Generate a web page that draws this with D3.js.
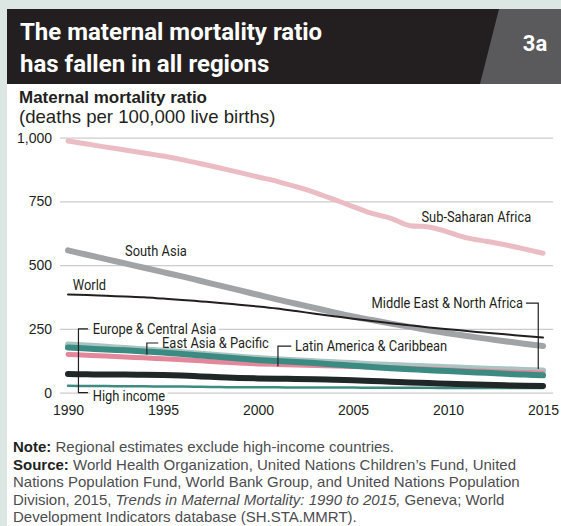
<!DOCTYPE html>
<html lang="en">
<head>
<meta charset="UTF-8">
<title>Maternal mortality ratio</title>
<script src="https://d3js.org/d3.v7.min.js"></script>
<style>
  body { margin: 0; background: #dce6e3; }
  svg { display: block; }
  .axis text { font-family: "Liberation Sans", Arial, sans-serif; font-size: 14px; fill: #231f20; }
  .series-label { font-family: Roboto, "Liberation Sans", sans-serif; font-size: 15px; fill: #231f20; }
  .note { font-family: "Liberation Sans", Arial, sans-serif; font-size: 15px; fill: #4d4d4f; }
</style>
</head>
<body>
<svg id="chart" width="561" height="526"></svg>
<script>
// years and series values (maternal deaths per 100,000 live births)
const years = [1990, 1991, 1992, 1993, 1994, 1995, 1996, 1997, 1998, 1999, 2000, 2001, 2002,
               2003, 2004, 2005, 2006, 2007, 2008, 2009, 2010, 2011, 2012, 2013, 2014, 2015];
const subSaharanAfrica = [987, 975, 963, 952, 940, 928, 914, 898, 881, 864, 846, 829, 808, 785, 758,
                          730, 703, 684, 655, 650, 630, 607, 594, 580, 564, 547];
const southAsia = [558, 541, 524, 507, 490, 473, 456, 438, 420, 402, 384, 366, 349, 332, 315,
                   299, 285, 271, 258, 245, 233, 222, 212, 202, 192, 183];
const world = [385, 383, 380, 377, 374, 369, 364, 358, 352, 345, 338, 330, 320, 310, 300,
               290, 281, 272, 264, 256, 249, 242, 235, 229, 222, 216];
const highIncome = [27, 26, 26, 25, 25, 24, 24, 23, 22, 21, 21, 21, 20, 20, 20,
                    20, 19, 19, 19, 19, 18, 18, 18, 18, 18, 18];
const middleEastNorthAfrica = [189, 185, 180, 175, 170, 165, 159, 153, 147, 141, 136, 131, 127, 123, 119,
                               116, 112, 109, 106, 103, 100, 97, 94, 92, 89, 87];
const latinAmerica = [150, 147, 144, 140, 137, 133, 129, 125, 120, 116, 113, 111, 109, 107, 105,
                      103, 100, 98, 95, 92, 89, 86, 84, 81, 79, 77];
const eastAsiaPacific = [177, 173, 169, 166, 162, 158, 152, 146, 140, 134, 128, 124, 120, 116, 111,
                         106, 101, 96, 92, 88, 85, 81, 78, 74, 71, 68];
const europeCentralAsia = [73, 72, 71, 71, 70, 69, 67, 64, 61, 58, 56, 55, 54, 53, 51,
                           49, 46, 43, 40, 38, 35, 33, 31, 29, 27, 26];

const yTicks = [0, 250, 500, 750, 1000];
const xTicks = [1990, 1995, 2000, 2005, 2010, 2015];

// drawing order matters: later series sit on top
const series = [
  { name: "Sub-Saharan Africa", values: subSaharanAfrica, color: "#ecbcc4", width: 5 },
  { name: "South Asia", values: southAsia, color: "#a1a4a6", width: 6 },
  { name: "World", values: world, color: "#231f20", width: 2 },
  { name: "High income", values: highIncome, color: "#3d8b82", width: 2.5 },
  { name: "Middle East & North Africa", values: middleEastNorthAfrica, color: "#a9c4c1", width: 6 },
  { name: "Latin America & Caribbean", values: latinAmerica, color: "#e5879a", width: 5 },
  { name: "East Asia & Pacific", values: eastAsiaPacific, color: "#3c8b82", width: 6 },
  { name: "Europe & Central Asia", values: europeCentralAsia, color: "#1f2826", width: 6 }
];

const svg = d3.select("#chart");

// background frame
svg.append("rect").attr("x", 7).attr("y", 9).attr("width", 554).attr("height", 517).attr("fill", "#fff");
svg.append("rect").attr("x", 7).attr("y", 9).attr("width", 554).attr("height", 75).attr("fill", "#231f20");
svg.append("path").attr("d", "M499,9 L561,9 L561,84 L480,84 Z").attr("fill", "#5a5a5c");

const titleFont = 'Roboto, "Liberation Sans", sans-serif';
svg.append("text").attr("x", 20).attr("y", 40).attr("fill", "#fff")
  .style("font-family", titleFont).style("font-size", "24px").style("font-weight", "bold")
  .text("The maternal mortality ratio");
svg.append("text").attr("x", 20).attr("y", 72).attr("fill", "#fff")
  .style("font-family", titleFont).style("font-size", "24px").style("font-weight", "bold")
  .text("has fallen in all regions");
svg.append("text").attr("x", 535).attr("y", 51).attr("fill", "#fff").attr("text-anchor", "middle")
  .style("font-family", titleFont).style("font-size", "22px").style("font-weight", "bold")
  .text("3a");

svg.append("text").attr("x", 19).attr("y", 102.5).attr("fill", "#231f20")
  .style("font-family", '"Liberation Sans", Arial, sans-serif').style("font-size", "17px").style("font-weight", "bold")
  .text("Maternal mortality ratio");
svg.append("text").attr("x", 19).attr("y", 123).attr("fill", "#231f20")
  .style("font-family", '"Liberation Sans", Arial, sans-serif').style("font-size", "18.6px")
  .text("(deaths per 100,000 live births)");

// scales
const x = d3.scaleLinear().domain([1990, 2015]).range([68, 543]);
const y = d3.scaleLinear().domain([0, 1000]).range([392.7, 137.7]);
const gridLeft = 60, gridRight = 553;

// y axis with gridlines
const yAxis = svg.append("g").attr("class", "axis").attr("transform", `translate(${gridLeft},0)`)
  .call(d3.axisLeft(y).tickValues(yTicks).tickFormat(d3.format(","))
    .tickSize(-(gridRight - gridLeft)).tickPadding(8));
yAxis.select(".domain").remove();
yAxis.selectAll(".tick line").attr("stroke", "#cccccc").attr("stroke-width", 1.2);

// x axis labels
const xAxis = svg.append("g").attr("class", "axis").attr("transform", `translate(0,${y(0)})`)
  .call(d3.axisBottom(x).tickValues(xTicks).tickFormat(d3.format("d")).tickSize(0).tickPadding(12));
xAxis.select(".domain").remove();

const labelLayer = svg.append("g");

// lines
const line = d3.line()
  .x((d, i) => x(years[i]))
  .y(d => y(d))
  .curve(d3.curveMonotoneX);

svg.append("g").selectAll("path")
  .data(series)
  .join("path")
  .attr("d", d => line(d.values))
  .attr("fill", "none")
  .attr("stroke", d => d.color)
  .attr("stroke-width", d => d.width)
  .attr("stroke-linecap", "round")
  .attr("stroke-linejoin", "round");

// labels (anchored in data units)
const labels = [
  { text: "Sub-Saharan Africa", year: 2008.6, value: 668, anchor: "start" },
  { text: "South Asia", year: 1993, value: 535, anchor: "start" },
  { text: "World", year: 1990.25, value: 403, anchor: "start" },
  { text: "Middle East & North Africa", year: 2013.95, value: 332, anchor: "end" },
  { text: "Europe & Central Asia", year: 1991.3, value: 232, anchor: "start", knockout: true },
  { text: "East Asia & Pacific", year: 1994.95, value: 177, anchor: "start" },
  { text: "Latin America & Caribbean", year: 2001.95, value: 164, anchor: "start" },
  { text: "High income", year: 1991.3, value: -31, anchor: "start", knockout: true }
];

// leader lines: [year1, value1, year2, value2, ...] polyline points
const leaders = [
  [2014.1, 351, 2014.75, 351, 2014.75, 93],
  [1991.05, 250, 1990.55, 250, 1990.55, 0, 1991.05, 0],
  [1994.75, 195, 1994.15, 195, 1994.15, 150],
  [2001.75, 183, 2001.05, 183, 2001.05, 104]
];

// the original labels use a condensed face, so squeeze them horizontally
labels.forEach(l => {
  const g = labelLayer.append("g")
    .attr("transform", `translate(${x(l.year)},${y(l.value)}) scale(0.86,1)`);
  const t = g.append("text")
    .attr("class", "series-label")
    .attr("text-anchor", l.anchor)
    .text(l.text);
  if (l.knockout) {
    const b = t.node().getBBox();
    g.insert("rect", "text")
      .attr("x", b.x - 3).attr("y", b.y + 1).attr("width", b.width + 6).attr("height", b.height - 1)
      .attr("fill", "#fff");
  }
});

svg.append("g").selectAll("path")
  .data(leaders)
  .join("path")
  .attr("d", d => {
    const pts = [];
    for (let i = 0; i < d.length; i += 2) pts.push([x(d[i]), y(d[i + 1])]);
    return d3.line()(pts);
  })
  .attr("fill", "none")
  .attr("stroke", "#231f20")
  .attr("stroke-width", 1.2);

// note and source
const noteLines = [
  [["Note: ", true], ["Regional estimates exclude high-income countries.", false]],
  [["Source: ", true], ["World Health Organization, United Nations Children\u2019s Fund, United", false]],
  [["Nations Population Fund, World Bank Group, and United Nations Population", false]],
  [["Division, 2015, ", false], ["Trends in Maternal Mortality: 1990 to 2015,", "italic"], [" Geneva; World", false]],
  [["Development Indicators database (SH.STA.MMRT).", false]]
];
noteLines.forEach((parts, i) => {
  const t = svg.append("text").attr("class", "note").attr("x", 13).attr("y", 452 + i * 17.6);
  parts.forEach(([s, style]) => {
    const ts = t.append("tspan").text(s);
    if (style === true) ts.attr("font-weight", "bold").attr("fill", "#231f20");
    if (style === "italic") ts.attr("font-style", "italic");
  });
});
</script>
</body>
</html>
